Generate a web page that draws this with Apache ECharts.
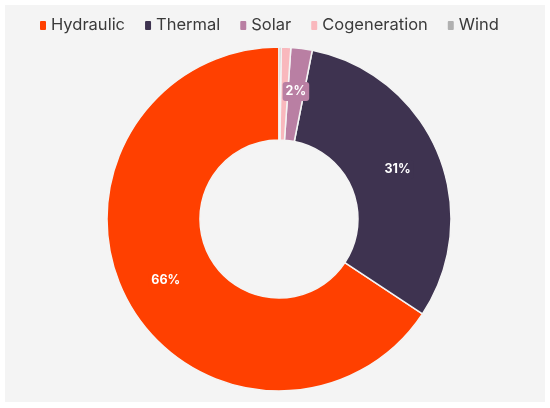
<!DOCTYPE html>
<html>
<head>
<meta charset="utf-8">
<script src="https://cdn.jsdelivr.net/npm/echarts@6/dist/echarts.min.js"></script>
<style>
html,body{margin:0;padding:0;background:#fff;}
#c{width:550px;height:408px;}
</style>
</head>
<body>
<div id="c"></div>
<script>
const categories = ['Hydraulic', 'Thermal', 'Solar', 'Cogeneration', 'Wind'];
const values = [65.7, 31.2, 2.0, 0.9, 0.2];
const colors = ['#ff4000', '#3e3350', '#b97fa3', '#f9b8bd', '#b0b0b0'];

const chart = echarts.init(document.getElementById('c'), null, {renderer: 'canvas'});
chart.setOption({
  animation: false,
  backgroundColor: '#ffffff',
  color: colors,
  graphic: [{
    type: 'rect', z: -10, silent: true,
    shape: {x: 5, y: 5, width: 540, height: 397},
    style: {fill: '#f4f4f4'}
  }],
  legend: {
    top: 12,
    left: 33,
    itemWidth: 8,
    itemHeight: 11,
    itemGap: 18,
    icon: 'roundRect',
    textStyle: {fontFamily: 'Inter', fontSize: 16.5, color: '#3a3a3a', padding: [0, 0, 0, -1]},
    data: categories
  },
  series: [{
    type: 'pie',
    center: [279, 219],
    radius: [79, 172],
    startAngle: 90,
    clockwise: false,
    avoidLabelOverlap: false,
    itemStyle: {borderColor: '#f4f4f4', borderWidth: 1.5},
    label: {
      show: true,
      position: 'inside',
      fontFamily: 'Inter',
      fontWeight: 'bold',
      fontSize: 12.5,
      color: '#ffffff',
      backgroundColor: 'inherit',
      padding: [3, 3],
      borderRadius: 3,
      formatter: function (p) { return Math.round(p.percent) + '%'; }
    },
    labelLine: {show: false},
    data: categories.map((n, i) => ({
      name: n,
      value: values[i],
      label: {show: values[i] >= 1.5}
    }))
  }]
});
</script>
</body>
</html>
